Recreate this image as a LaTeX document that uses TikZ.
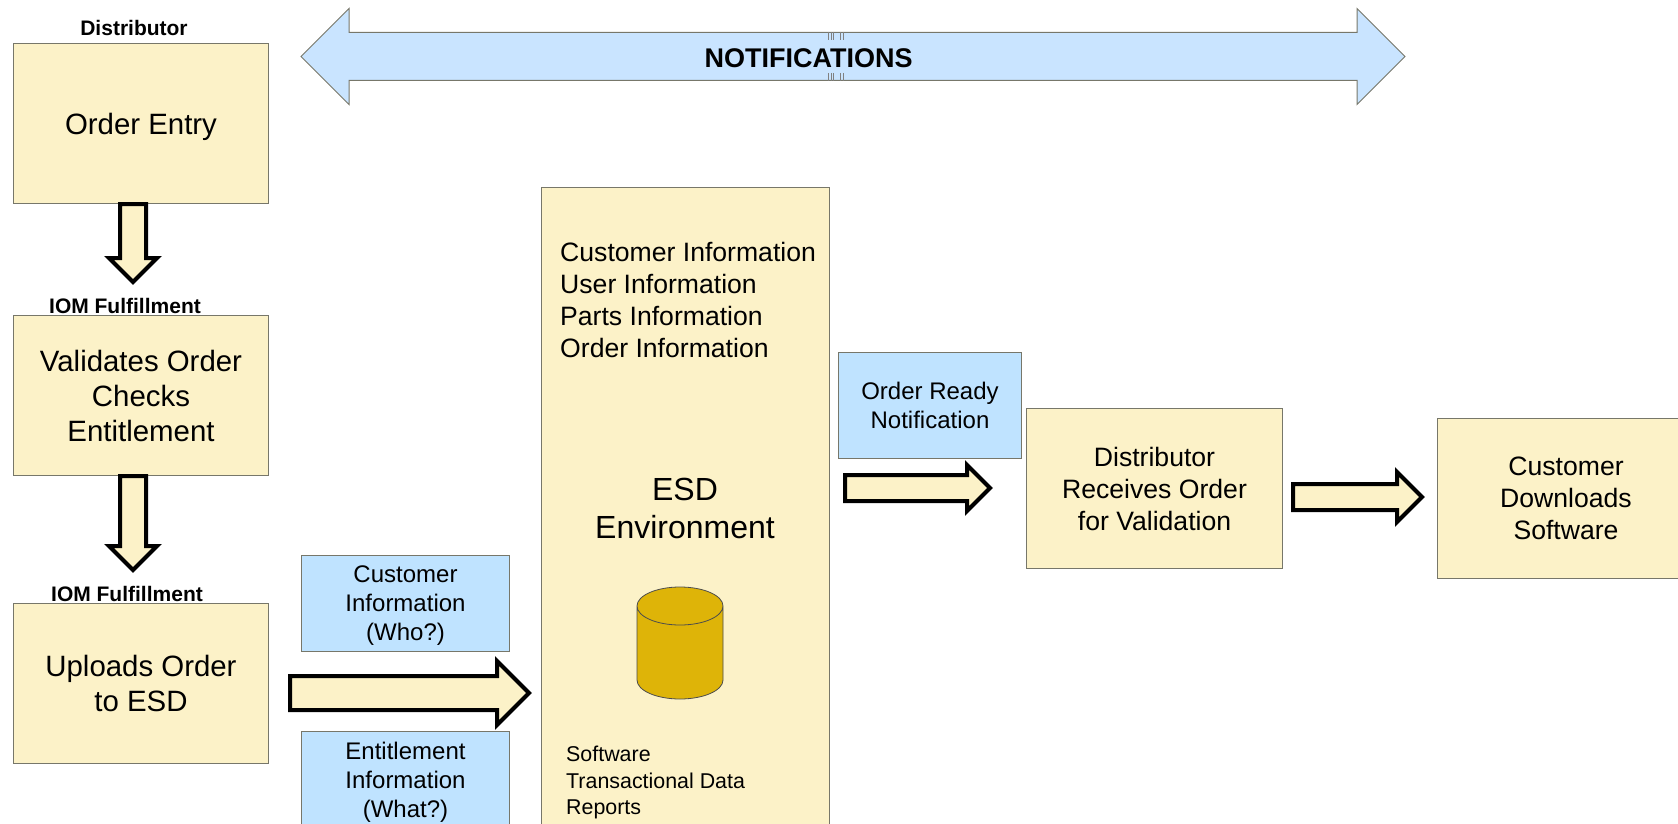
\documentclass[tikz,border=0pt]{standalone}
\usepackage{fontspec}
\setmainfont{Liberation Sans}
\usetikzlibrary{shapes.arrows}
\definecolor{boxyellow}{HTML}{FCF2C8}
\definecolor{boxblue}{HTML}{BFE3FF}
\definecolor{notifyblue}{HTML}{C9E4FF}
\definecolor{dbgold}{HTML}{DEB408}
\definecolor{boxline}{HTML}{77776A}
\tikzset{
	yellowbox/.style={draw=boxline, fill=boxyellow, line width=1pt, inner sep=0pt, anchor=north west, align=center},
	bluebox/.style={draw=boxline, fill=boxblue, line width=1pt, inner sep=0pt, anchor=north west, align=center, font=\fontsize{24}{29}\selectfont},
	bigtext/.style={font=\fontsize{29.4}{35}\selectfont},
	midtext/.style={font=\fontsize{26.6}{32}\selectfont},
	headlabel/.style={font=\fontsize{21}{25}\selectfont\bfseries, inner sep=0pt},
	blockarrow/.style={single arrow, draw=black, fill=boxyellow, line width=4pt, inner xsep=0pt, inner ysep=11pt, outer sep=0pt, anchor=tail, single arrow tip angle=90}
}
\begin{document}
\begin{tikzpicture}[x=1pt,y=-1pt]
	\clip	(0,0)	rectangle	(1678,824);

	% notifications banner
	\node[double arrow, draw=boxline, fill=notifyblue, line width=1pt, inner xsep=0pt, inner ysep=23.5pt, outer sep=0pt, double arrow tip angle=90,
		minimum height=1104pt, minimum width=95pt, double arrow head extend=24pt] (notify) at (853,56.5) {};
	\draw[gray, line width=0.8pt]
			(828.5,32)	--	(828.5,40)
			(831,32)	--	(831,40)
			(833.5,32)	--	(833.5,40)
			(840,32)	--	(840,40)
			(843.5,32)	--	(843.5,40)
			(828.5,73)	--	(828.5,81)
			(831,73)	--	(831,81)
			(833.5,73)	--	(833.5,81)
			(840,73)	--	(840,81)
			(843.5,73)	--	(843.5,81);
	\node[font=\fontsize{27}{33}\selectfont\bfseries, inner sep=0pt] (notifytext) at (808.5,58) {NOTIFICATIONS};

	% left column
	\node[headlabel] (distlabel) at (134,28) {Distributor};
	\node[yellowbox, bigtext, text depth=-2.6pt, minimum width=255pt, minimum height=160pt] (orderentry) at (13,43) {Order Entry};
	\node[headlabel] (iomlabela) at (125,305.5) {IOM Fulfillment};
	\node[yellowbox, bigtext, text depth=-2pt, minimum width=255pt, minimum height=160pt] (validates) at (13,315) {Validates Order\\Checks\\Entitlement};
	\node[headlabel] (iomlabelb) at (127,593.5) {IOM Fulfillment};
	\node[yellowbox, bigtext, minimum width=255pt, minimum height=160pt] (uploads) at (13,603) {Uploads Order\\to ESD};

	% information boxes
	\node[bluebox, text depth=-2pt, minimum width=208pt, minimum height=96pt] (custinfo) at (301,555) {Customer\\Information\\(Who?)};
	\node[bluebox, text depth=2pt, minimum width=208pt, minimum height=98pt] (entinfo) at (301,731) {Entitlement\\Information\\(What?)};

	% esd environment
	\node[yellowbox, minimum width=288pt, minimum height=660pt] (esd) at (541,187) {};
	\node[midtext, align=left, inner sep=0pt, anchor=north west] (esdlist) at (560,242) {Customer Information\\User Information\\Parts Information\\Order Information};
	\node[font=\fontsize{32}{38.5}\selectfont, align=center, inner sep=0pt] (esdtitle) at (685,508.5) {ESD\\Environment};
	\draw[draw=black!70, fill=dbgold, line width=0.8pt]
			(637,606)	--	(637,680)
			arc[start angle=180, end angle=360, x radius=43pt, y radius=19pt]
			--	(723,606)
			arc[start angle=0, end angle=180, x radius=43pt, y radius=19pt]
			arc[start angle=180, end angle=360, x radius=43pt, y radius=19pt];
	\node[font=\fontsize{21.4}{26.5}\selectfont, align=left, inner sep=0pt, anchor=north west] (esddata) at (566,746) {Software\\Transactional Data\\Reports};

	% right side
	\node[bluebox, text depth=-4pt, minimum width=183pt, minimum height=106pt] (orderready) at (838,352) {Order Ready\\Notification};
	\node[yellowbox, midtext, text depth=-6.3pt, minimum width=256pt, minimum height=160pt] (receives) at (1026,408) {Distributor\\Receives Order\\for Validation};
	\node[yellowbox, midtext, text depth=-4pt, minimum width=257pt, minimum height=160pt] (downloads) at (1437,418) {Customer\\Downloads\\Software};

	% block arrows
	\node[blockarrow, rotate=-90, minimum height=78pt, minimum width=45pt, single arrow head extend=11pt] (arrowa) at (133,204) {};
	\node[blockarrow, rotate=-90, minimum height=94pt, minimum width=45pt, single arrow head extend=11pt] (arrowb) at (133,476) {};
	\node[blockarrow, inner ysep=15pt, minimum height=239pt, minimum width=59pt, single arrow head extend=15pt] (arrowc) at (290,693) {};
	\node[blockarrow, minimum height=145pt, minimum width=44pt, single arrow head extend=10pt] (arrowd) at (845,488) {};
	\node[blockarrow, minimum height=129pt, minimum width=45pt, single arrow head extend=12pt] (arrowe) at (1293,497) {};
\end{tikzpicture}
\end{document}
